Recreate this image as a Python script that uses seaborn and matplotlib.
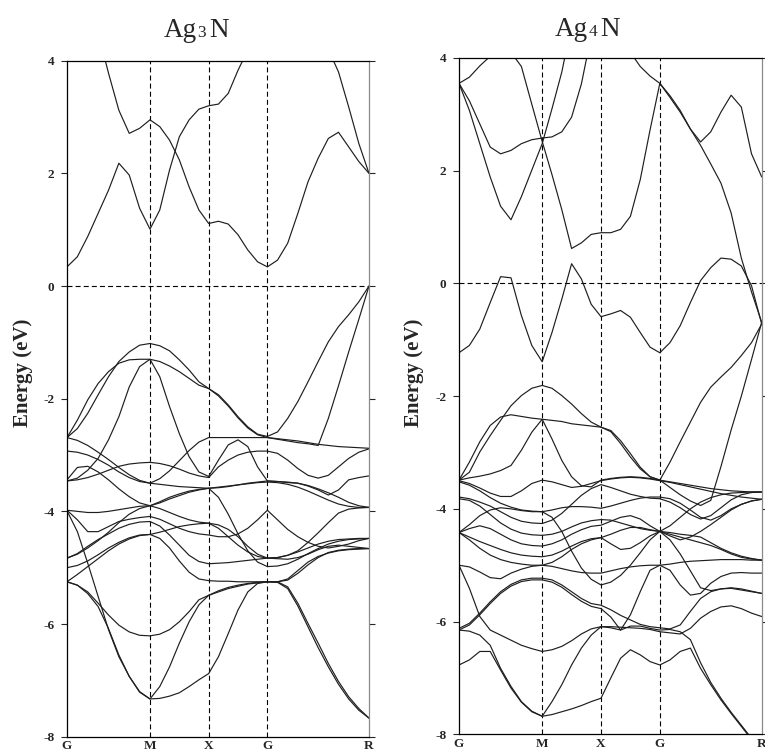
import numpy as np
import pandas as pd
import matplotlib
matplotlib.use("Agg")
import matplotlib.pyplot as plt
import seaborn as sns

# ---------------------------------------------------------------------------
# k-path of the simple cubic Brillouin zone and sampling along each segment
# ---------------------------------------------------------------------------
path_labels = ["G", "M", "X", "G", "R"]
segment_lengths = [np.sqrt(2.0), 1.0, 1.0, np.sqrt(3.0)]
segment_samples = [8, 6, 6, 10]
energy_ticks = [-8, -6, -4, -2, 0, 2, 4]

# ---------------------------------------------------------------------------
# Ag3N band energies (eV) on the G-M-X-G-R path
# ---------------------------------------------------------------------------
ag3n_c1 = [0.34, 0.52, 0.88, 1.29, 1.70, 2.18, 1.97, 1.38, 1.01,
           1.35, 2.06, 2.65, 2.95, 3.14, 3.20,
           3.23, 3.42, 3.83, 4.19, 4.50, 4.80,
           4.90, 5.00, 5.00, 4.90, 4.60, 4.20, 3.80, 3.18, 2.53, 2.00]
ag3n_c2 = [6.00, 5.50, 5.00, 4.50, 3.78, 3.12, 2.71, 2.80, 2.95,
           2.83, 2.59, 2.24, 1.76, 1.35, 1.11,
           1.15, 1.10, 0.91, 0.64, 0.43, 0.34,
           0.46, 0.76, 1.29, 1.85, 2.27, 2.62, 2.73, 2.47, 2.21, 2.00]
ag3n_v01 = [-2.69, -2.53, -2.26, -1.93, -1.61, -1.34, -1.17, -1.05, -1.02,
            -1.06, -1.15, -1.31, -1.49, -1.70, -1.82,
            -1.93, -2.11, -2.32, -2.50, -2.63, -2.67,
            -2.59, -2.35, -2.05, -1.70, -1.34, -0.99, -0.72, -0.51, -0.28, 0.00]
ag3n_v02 = [-2.69, -2.38, -2.02, -1.73, -1.52, -1.37, -1.31, -1.30, -1.30,
            -1.34, -1.42, -1.52, -1.64, -1.76, -1.82,
            -1.95, -2.13, -2.34, -2.52, -2.64, -2.69,
            -2.72, -2.75, -2.78, -2.80, -2.83, -2.35, -1.77, -1.17, -0.59, 0.00]
ag3n_v03 = [-2.69, -2.74, -2.83, -2.95, -3.08, -3.22, -3.35, -3.45, -3.50,
            -3.42, -3.28, -3.10, -2.92, -2.77, -2.69,
            -2.69, -2.69, -2.69, -2.69, -2.69, -2.69,
            -2.71, -2.73, -2.75, -2.78, -2.81, -2.83, -2.85, -2.86, -2.87, -2.88]
ag3n_v04 = [-3.46, -3.41, -3.27, -3.06, -2.73, -2.32, -1.79, -1.43, -1.30,
            -1.61, -2.14, -2.62, -3.03, -3.30, -3.38,
            -3.09, -2.82, -2.73, -2.85, -3.21, -3.46,
            -3.47, -3.49, -3.50, -3.55, -3.62, -3.71, -3.62, -3.44, -3.40, -3.37]
ag3n_v05 = [-3.46, -3.44, -3.40, -3.34, -3.27, -3.20, -3.16, -3.14, -3.13,
            -3.15, -3.19, -3.25, -3.32, -3.37, -3.40,
            -3.21, -3.09, -3.00, -2.95, -2.93, -2.93,
            -2.97, -3.09, -3.24, -3.36, -3.41, -3.36, -3.21, -3.06, -2.95, -2.89]
ag3n_v06 = [-2.93, -2.95, -3.00, -3.08, -3.18, -3.30, -3.40, -3.47, -3.50,
            -3.52, -3.54, -3.56, -3.57, -3.58, -3.59,
            -3.57, -3.55, -3.53, -3.51, -3.49, -3.48,
            -3.49, -3.52, -3.57, -3.64, -3.72, -3.80, -3.87, -3.91, -3.93, -3.93]
ag3n_v07 = [-3.44, -3.22, -3.20, -3.30, -3.44, -3.60, -3.74, -3.85, -3.90,
            -3.85, -3.78, -3.72, -3.66, -3.62, -3.59,
            -3.58, -3.56, -3.53, -3.50, -3.48, -3.46,
            -3.47, -3.48, -3.50, -3.54, -3.60, -3.67, -3.75, -3.84, -3.90, -3.93]
ag3n_v08 = [-3.98, -4.15, -4.36, -4.36, -4.27, -4.18, -4.14, -4.11, -4.09,
            -4.14, -4.22, -4.30, -4.36, -4.40, -4.42,
            -4.45, -4.45, -4.40, -4.30, -4.15, -3.98,
            -4.15, -4.32, -4.45, -4.55, -4.62, -4.65, -4.62, -4.58, -4.52, -4.48]
ag3n_v09 = [-3.98, -4.00, -4.02, -4.02, -4.00, -3.97, -3.94, -3.91, -3.90,
            -3.83, -3.75, -3.69, -3.64, -3.61, -3.59,
            -3.75, -4.05, -4.40, -4.70, -4.90, -4.98,
            -4.97, -4.93, -4.85, -4.75, -4.66, -4.58, -4.53, -4.50, -4.49, -4.48]
ag3n_v10 = [-4.83, -4.76, -4.65, -4.52, -4.37, -4.20, -4.05, -3.95, -3.90,
            -3.95, -4.02, -4.09, -4.15, -4.19, -4.21,
            -4.30, -4.45, -4.60, -4.72, -4.80, -4.83,
            -4.82, -4.78, -4.70, -4.55, -4.38, -4.20, -4.03, -3.96, -3.94, -3.93]
ag3n_v11 = [-4.83, -4.75, -4.62, -4.50, -4.40, -4.30, -4.23, -4.19, -4.18,
            -4.26, -4.42, -4.60, -4.78, -4.89, -4.93,
            -4.92, -4.91, -4.89, -4.87, -4.85, -4.83,
            -4.84, -4.85, -4.82, -4.76, -4.68, -4.62, -4.60, -4.62, -4.64, -4.66]
ag3n_v12 = [-5.00, -4.96, -4.88, -4.77, -4.65, -4.55, -4.47, -4.42, -4.41,
            -4.48, -4.65, -4.88, -5.08, -5.20, -5.23,
            -5.24, -5.24, -5.25, -5.25, -5.25, -5.25,
            -5.25, -5.22, -5.10, -4.95, -4.82, -4.73, -4.69, -4.67, -4.66, -4.66]
ag3n_v13 = [-5.25, -5.12, -4.98, -4.84, -4.70, -4.58, -4.49, -4.43, -4.41,
            -4.37, -4.32, -4.27, -4.24, -4.22, -4.21,
            -4.24, -4.32, -4.45, -4.62, -4.76, -4.83,
            -4.82, -4.78, -4.72, -4.65, -4.58, -4.53, -4.50, -4.49, -4.48, -4.48]
ag3n_v14 = [-3.99, -4.36, -4.92, -5.51, -6.10, -6.58, -6.93, -7.20, -7.33,
            -7.32, -7.28, -7.22, -7.11, -6.99, -6.88,
            -6.58, -6.17, -5.75, -5.43, -5.28, -5.25,
            -5.25, -5.34, -5.63, -5.99, -6.34, -6.70, -7.02, -7.29, -7.50, -7.67]
ag3n_v15 = [-5.25, -5.31, -5.46, -5.69, -6.08, -6.55, -6.93, -7.21, -7.33,
            -7.11, -6.76, -6.34, -5.96, -5.66, -5.49,
            -5.43, -5.37, -5.33, -5.29, -5.27, -5.25,
            -5.26, -5.37, -5.68, -6.05, -6.42, -6.76, -7.07, -7.33, -7.53, -7.67]
ag3n_v16 = [-5.25, -5.31, -5.43, -5.63, -5.84, -6.02, -6.14, -6.20, -6.21,
            -6.18, -6.10, -5.96, -5.78, -5.57, -5.49,
            -5.41, -5.35, -5.31, -5.28, -5.26, -5.25,
            -5.25, -5.20, -5.05, -4.90, -4.80, -4.74, -4.70, -4.68, -4.67, -4.66]

# ---------------------------------------------------------------------------
# Ag4N band energies (eV) on the same path
# ---------------------------------------------------------------------------
ag4n_c1 = [-1.23, -1.10, -0.81, -0.34, 0.12, 0.10, -0.57, -1.10, -1.39,
           -0.87, -0.28, 0.35, 0.08, -0.37, -0.59,
           -0.54, -0.48, -0.60, -0.87, -1.13, -1.23,
           -1.05, -0.75, -0.34, 0.05, 0.28, 0.45, 0.43, 0.31, -0.04, -0.72]
ag4n_c2 = [3.55, 3.66, 3.86, 4.03, 4.12, 4.10, 3.85, 3.18, 2.52,
           1.93, 1.31, 0.62, 0.72, 0.87, 0.90,
           0.90, 0.96, 1.19, 1.84, 2.72, 3.55,
           3.30, 3.04, 2.74, 2.45, 2.12, 1.78, 1.25, 0.45, -0.15, -0.69]
ag4n_c3 = [3.55, 3.24, 2.83, 2.42, 2.30, 2.36, 2.48, 2.55, 2.58,
           2.60, 2.69, 2.95, 3.54, 4.40, 4.80,
           5.00, 5.00, 4.10, 3.85, 3.68, 3.55,
           3.33, 3.07, 2.74, 2.51, 2.69, 3.04, 3.34, 3.13, 2.30, 1.89]
ag4n_c4 = [3.55, 3.07, 2.48, 1.89, 1.37, 1.13, 1.54, 2.01, 2.48,
           3.10, 3.75, 4.60]
ag4n_v01 = [-3.49, -3.35, -2.99, -2.70, -2.43, -2.17, -1.99, -1.86, -1.81,
            -1.86, -1.99, -2.14, -2.31, -2.46, -2.55,
            -2.63, -2.84, -3.08, -3.29, -3.43, -3.49,
            -3.17, -2.81, -2.46, -2.11, -1.84, -1.66, -1.49, -1.28, -1.05, -0.72]
ag4n_v02 = [-3.49, -3.17, -2.81, -2.52, -2.37, -2.33, -2.36, -2.39, -2.41,
            -2.43, -2.45, -2.49, -2.51, -2.53, -2.55,
            -2.61, -2.79, -3.02, -3.26, -3.43, -3.49,
            -3.52, -3.55, -3.58, -3.61, -3.64, -3.66, -3.68, -3.69, -3.70, -3.70]
ag4n_v03 = [-3.49, -3.45, -3.42, -3.38, -3.32, -3.23, -2.96, -2.64, -2.41,
            -2.76, -3.14, -3.43, -3.59, -3.61, -3.49,
            -3.46, -3.44, -3.43, -3.44, -3.46, -3.49,
            -3.62, -3.75, -3.86, -3.94, -3.85, -3.25, -2.60, -2.00, -1.35, -0.69]
ag4n_v04 = [-3.50, -3.55, -3.63, -3.72, -3.78, -3.78, -3.68, -3.55, -3.49,
            -3.52, -3.57, -3.62, -3.60, -3.55, -3.50,
            -3.47, -3.45, -3.44, -3.45, -3.47, -3.50,
            -3.53, -3.57, -3.61, -3.65, -3.69, -3.73, -3.76, -3.79, -3.81, -3.83]
ag4n_v05 = [-3.52, -3.58, -3.68, -3.80, -3.90, -3.97, -4.02, -4.04, -4.05,
            -4.02, -3.98, -3.96, -3.96, -3.97, -3.99,
            -3.95, -3.90, -3.85, -3.81, -3.79, -3.79,
            -3.82, -3.90, -4.02, -4.15, -4.20, -4.12, -4.00, -3.92, -3.86, -3.83]
ag4n_v06 = [-3.79, -3.82, -3.88, -3.95, -4.05, -4.15, -4.22, -4.25, -4.26,
            -4.20, -4.08, -3.92, -3.76, -3.64, -3.57,
            -3.62, -3.68, -3.74, -3.78, -3.81, -3.82,
            -3.88, -3.98, -4.10, -4.18, -4.12, -3.98, -3.84, -3.75, -3.71, -3.70]
ag4n_v07 = [-3.82, -3.85, -3.95, -4.10, -4.25, -4.36, -4.43, -4.46, -4.47,
            -4.45, -4.40, -4.32, -4.25, -4.21, -4.19,
            -4.20, -4.25, -4.30, -4.35, -4.38, -4.40,
            -4.48, -4.55, -4.50, -4.40, -4.28, -4.15, -4.02, -3.92, -3.86, -3.83]
ag4n_v08 = [-4.42, -4.35, -4.30, -4.35, -4.45, -4.55, -4.62, -4.65, -4.66,
            -4.62, -4.55, -4.45, -4.37, -4.31, -4.29,
            -4.22, -4.15, -4.12, -4.18, -4.30, -4.40,
            -4.45, -4.50, -4.55, -4.60, -4.65, -4.72, -4.80, -4.86, -4.89, -4.91]
ag4n_v09 = [-4.42, -4.50, -4.58, -4.65, -4.72, -4.78, -4.82, -4.84, -4.85,
            -4.82, -4.75, -4.66, -4.58, -4.53, -4.51,
            -4.62, -4.72, -4.70, -4.60, -4.48, -4.40,
            -4.55, -4.80, -5.10, -5.40, -5.45, -5.42, -5.40, -5.42, -5.46, -5.50]
ag4n_v10 = [-4.42, -4.28, -4.12, -4.02, -3.98, -4.00, -4.03, -4.05, -4.05,
            -4.15, -4.40, -4.75, -5.05, -5.25, -5.35,
            -5.30, -5.18, -5.00, -4.78, -4.55, -4.40,
            -4.30, -4.15, -4.00, -3.88, -3.80, -3.75, -3.72, -3.71, -3.70, -3.70]
ag4n_v11 = [-4.42, -4.55, -4.70, -4.82, -4.90, -4.95, -4.98, -5.00, -5.00,
            -4.95, -4.85, -4.72, -4.62, -4.55, -4.51,
            -4.45, -4.38, -4.33, -4.33, -4.37, -4.40,
            -4.42, -4.45, -4.47, -4.50, -4.60, -4.70, -4.78, -4.84, -4.88, -4.91]
ag4n_v12 = [-5.00, -5.03, -5.12, -5.22, -5.24, -5.14, -5.07, -5.02, -5.00,
            -5.02, -5.06, -5.10, -5.13, -5.14, -5.14,
            -5.10, -5.06, -5.03, -5.01, -5.00, -5.00,
            -5.09, -5.35, -5.53, -5.50, -5.32, -5.20, -5.14, -5.13, -5.14, -5.14]
ag4n_v13 = [-5.00, -5.41, -5.91, -6.15, -6.24, -6.33, -6.42, -6.48, -6.53,
            -6.50, -6.44, -6.34, -6.22, -6.13, -6.09,
            -6.09, -6.10, -6.11, -6.12, -6.14, -6.18,
            -6.20, -6.22, -6.12, -5.94, -5.82, -5.74, -5.72, -5.77, -5.85, -5.91]
ag4n_v14 = [-6.12, -6.03, -5.85, -5.65, -5.47, -5.34, -5.26, -5.23, -5.23,
            -5.26, -5.35, -5.47, -5.59, -5.68, -5.71,
            -5.79, -5.89, -5.97, -6.05, -6.09, -6.11,
            -6.13, -6.06, -5.82, -5.59, -5.47, -5.42, -5.41, -5.44, -5.47, -5.50]
ag4n_v15 = [-6.15, -6.06, -5.88, -5.68, -5.50, -5.37, -5.29, -5.26, -5.26,
            -5.30, -5.39, -5.52, -5.64, -5.73, -5.77,
            -5.92, -6.15, -6.08, -6.08, -6.12, -6.15,
            -6.14, -6.18, -6.32, -6.73, -7.08, -7.36, -7.61, -7.84, -8.07, -8.28]
ag4n_v16 = [-6.15, -6.17, -6.24, -6.42, -6.83, -7.15, -7.42, -7.59, -7.68,
            -7.65, -7.60, -7.55, -7.49, -7.42, -7.36,
            -7.00, -6.65, -6.50, -6.59, -6.71, -6.77,
            -6.68, -6.53, -6.47, -6.83, -7.12, -7.39, -7.63, -7.86, -8.09, -8.30]
ag4n_v17 = [-6.77, -6.68, -6.53, -6.53, -6.86, -7.18, -7.43, -7.60, -7.68,
            -7.42, -7.12, -6.77, -6.47, -6.24, -6.09,
            -6.11, -6.15, -5.88, -5.47, -5.09, -5.00,
            -4.98, -4.95, -4.93, -4.92, -4.91, -4.90, -4.90, -4.90, -4.91, -4.91]

ag3n_bands = [("c1", ag3n_c1), ("c2", ag3n_c2),
              ("v01", ag3n_v01), ("v02", ag3n_v02), ("v03", ag3n_v03),
              ("v04", ag3n_v04), ("v05", ag3n_v05), ("v06", ag3n_v06),
              ("v07", ag3n_v07), ("v08", ag3n_v08), ("v09", ag3n_v09),
              ("v10", ag3n_v10), ("v11", ag3n_v11), ("v12", ag3n_v12),
              ("v13", ag3n_v13), ("v14", ag3n_v14), ("v15", ag3n_v15),
              ("v16", ag3n_v16)]
ag4n_bands = [("c1", ag4n_c1), ("c2", ag4n_c2), ("c3", ag4n_c3), ("c4", ag4n_c4),
              ("v01", ag4n_v01), ("v02", ag4n_v02), ("v03", ag4n_v03),
              ("v04", ag4n_v04), ("v05", ag4n_v05), ("v06", ag4n_v06),
              ("v07", ag4n_v07), ("v08", ag4n_v08), ("v09", ag4n_v09),
              ("v10", ag4n_v10), ("v11", ag4n_v11), ("v12", ag4n_v12),
              ("v13", ag4n_v13), ("v14", ag4n_v14), ("v15", ag4n_v15),
              ("v16", ag4n_v16), ("v17", ag4n_v17)]


def k_axis():
    k = [0.0]
    start = 0.0
    for length, n in zip(segment_lengths, segment_samples):
        k.extend(start + length * np.arange(1, n + 1) / n)
        start += length
    return np.array(k)


k_points = k_axis()
k_nodes = np.concatenate([[0.0], np.cumsum(segment_lengths)])


def long_table(bands):
    frames = []
    for name, energies in bands:
        frames.append(pd.DataFrame({"k": k_points[:len(energies)],
                                    "energy": energies,
                                    "band": name}))
    return pd.concat(frames, ignore_index=True)


sns.set_style("ticks")
plt.rcParams["font.family"] = ["Liberation Serif", "DejaVu Serif"]
plt.rcParams["axes.unicode_minus"] = False

W, H = 765, 753
fig = plt.figure(figsize=(W / 100, H / 100), dpi=100)
ax_left = fig.add_axes([67 / W, (H - 736.7) / H, 302 / W, 676 / H])
ax_right = fig.add_axes([459 / W, (H - 734.3) / H, 302.7 / W, 676.3 / H])

dash = (0, (4.5, 2.8))


def draw_panel(ax, bands):
    for x in k_nodes[1:-1]:
        ax.axvline(x, color="black", lw=0.8, ls=dash, zorder=1)
    ax.axhline(0.0, color="black", lw=0.8, ls=dash, zorder=1)
    sns.lineplot(data=long_table(bands), x="k", y="energy", units="band",
                 estimator=None, sort=False, color="#1e1e1e", linewidth=0.85,
                 legend=False, ax=ax, zorder=2)
    ax.set_xlim(k_nodes[0], k_nodes[-1])
    ax.set_ylim(-8, 4)
    ax.set_xticks(k_nodes)
    ax.set_xticklabels(path_labels, fontsize=9.5, fontweight="bold")
    ax.set_yticks(energy_ticks)
    ax.set_yticklabels([str(t) for t in energy_ticks], fontsize=9.5, fontweight="bold")
    ax.tick_params(axis="x", length=0, pad=2.5)
    ax.tick_params(axis="y", left=True, right=True, direction="out",
                   length=4.5, width=0.8, pad=4.5)
    ax.set_xlabel("")
    ax.set_ylabel("")
    for side in ("left", "top", "bottom"):
        ax.spines[side].set_color("black")
        ax.spines[side].set_linewidth(0.9)
    ax.spines["right"].set_color("#8a8a8a")
    ax.spines["right"].set_linewidth(0.9)


draw_panel(ax_left, ag3n_bands)
draw_panel(ax_right, ag4n_bands)

renderer = fig.canvas.get_renderer()


def formula_title(center_px, baseline_px, metal, count, anion):
    y = 1 - baseline_px / H
    parts = [(metal, 19.5), (count, 12.5), (anion, 19.5)]
    gaps = [0.0, 3.5, 0.0]
    objs = [fig.text(0, y, t, fontsize=s, va="baseline", ha="left") for t, s in parts]
    widths = [o.get_window_extent(renderer).width for o in objs]
    x = center_px - (sum(widths) + sum(gaps)) / 2
    for o, w, g in zip(objs, widths, gaps):
        o.set_x(x / W)
        x += w + g


formula_title(196.5, 37, "Ag", "3", "N")
formula_title(587.5, 36, "Ag", "4", "N")

for cx in (23, 413.5):
    fig.text(cx / W, 1 - 372.5 / H, "Energy (eV)", rotation=90, ha="center",
             va="center", fontsize=15, fontweight="bold")

fig.savefig("out.png", dpi=100)
